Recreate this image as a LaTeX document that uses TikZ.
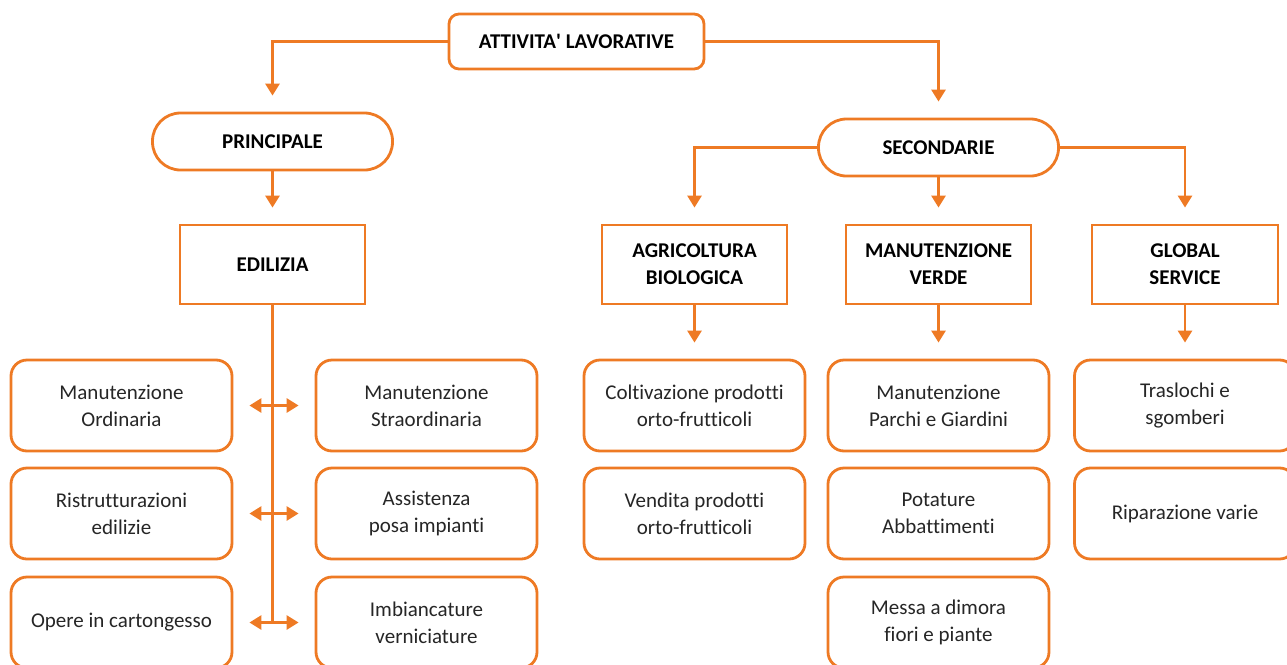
\documentclass[tikz,border=0pt]{standalone}
\usepackage{fontspec}
\setmainfont{Carlito}[Ligatures=NoCommon]
\usetikzlibrary{arrows.meta}
\definecolor{arancio}{HTML}{EE7A24}

\begin{document}
\begin{tikzpicture}[x=1pt,y=-1pt,
        font=\fontsize{21}{27}\selectfont,
        base/.style={draw=arancio,line width=2.8pt,fill=white,align=center,inner sep=0pt},
        capo/.style={base,rounded corners=10pt,minimum width=255pt,minimum height=55pt,font=\fontsize{21}{27}\selectfont\bfseries},
        ovale/.style={base,rounded corners=28pt,minimum width=240pt,minimum height=57pt,font=\fontsize{21}{27}\selectfont\bfseries},
        sezione/.style={base,minimum width=185pt,minimum height=79pt,font=\fontsize{21}{27}\selectfont\bfseries},
        voce/.style={base,rounded corners=16pt,minimum width=221pt,minimum height=91pt,text=black!85},
        freccia/.style={draw=arancio,line width=2.8pt,-{Triangle[width=14pt,length=12pt]},shorten >=16pt},
        doppia/.style={draw=arancio,line width=2.8pt,{Triangle[width=14pt,length=12pt]}-{Triangle[width=14pt,length=12pt]},shorten >=16pt,shorten <=16pt},
        linea/.style={draw=arancio,line width=2.8pt}]
    \useasboundingbox (0,0) rectangle (1287,664);

    \node[capo] (att) at (576.5,41.5) {ATTIVITA\textquotesingle{} LAVORATIVE};

    \node[ovale] (prin) at (272.5,141.5) {PRINCIPALE};
    \node[ovale] (sec) at (938.5,147.5) {SECONDARIE};

    \node[sezione] (edil) at (272.5,264.5) {EDILIZIA};
    \node[sezione] (agri) at (694.5,264.5) {AGRICOLTURA\\BIOLOGICA};
    \node[sezione] (verde) at (938.5,264.5) {MANUTENZIONE\\VERDE};
    \node[sezione,minimum width=186pt] (glob) at (1185,264.5) {GLOBAL\\SERVICE};

    \node[voce] (ord) at (121.5,405.5) {Manutenzione\\Ordinaria};
    \node[voce] (stra) at (426.5,405.5) {Manutenzione\\Straordinaria};
    \node[voce] (ristr) at (121.5,513.5) {Ristrutturazioni\\edilizie};
    \node[voce] (imp) at (426.5,513.5) {Assistenza\\posa impianti};
    \node[voce] (carton) at (121.5,622.5) {Opere in cartongesso};
    \node[voce] (imbi) at (426.5,622.5) {Imbiancature\\verniciature};

    \node[voce] (colt) at (694.5,405.5) {Coltivazione prodotti\\orto-frutticoli};
    \node[voce] (vend) at (694.5,513.5) {Vendita prodotti\\orto-frutticoli};
    \node[voce] (parchi) at (938.5,405.5) {Manutenzione\\Parchi e Giardini};
    \node[voce] (pota) at (938.5,513.5) {Potature\\Abbattimenti};
    \node[voce] (dimora) at (938.5,622.5) {Messa a dimora\\fiori e piante};
    \node[voce] (trasl) at (1185,405.5) {Traslochi e\\sgomberi};
    \node[voce] (ripar) at (1185,513.5) {Riparazione varie};

    \draw[freccia] (att.west) -| (prin.north);
    \draw[freccia] (att.east) -| (sec.north);
    \draw[freccia] (prin.south) -- (edil.north);

    \draw[freccia] (sec.west) -| (agri.north);
    \draw[freccia] (sec.south) -- (verde.north);
    \draw[freccia] (sec.east) -| (glob.north);

    \draw[freccia] (agri.south) -- (colt.north);
    \draw[freccia] (verde.south) -- (parchi.north);
    \draw[freccia] (glob.south) -- (trasl.north);

    \draw[linea] (edil.south) -- (edil.south |- carton.east);
    \draw[doppia] (ord.east) -- (stra.west);
    \draw[doppia] (ristr.east) -- (imp.west);
    \draw[doppia] (carton.east) -- (imbi.west);
\end{tikzpicture}
\end{document}
